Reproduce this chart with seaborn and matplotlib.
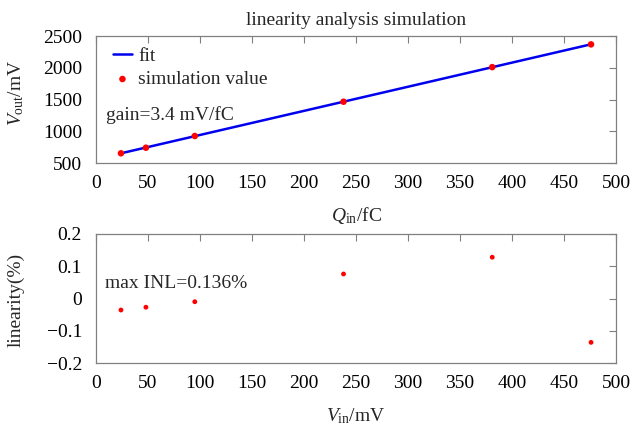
import numpy as np
import pandas as pd
import matplotlib
matplotlib.use("Agg")
import matplotlib.pyplot as plt
import seaborn as sns
from matplotlib.ticker import FuncFormatter

# data
q_in = [24, 48, 95, 238, 381, 476]
v_out = [653, 741, 925, 1465, 2010, 2368]
v_in = [24, 48, 95, 238, 381, 476]
linearity = [-0.0357, -0.027, -0.010, 0.076, 0.128, -0.136]

sns.set_theme(style="white")
plt.rcParams["font.family"] = ["Liberation Serif", "DejaVu Serif"]
plt.rcParams["mathtext.fontset"] = "custom"
plt.rcParams["mathtext.rm"] = "Liberation Serif"
plt.rcParams["mathtext.it"] = "Liberation Serif:italic"
plt.rcParams["axes.unicode_minus"] = True

FS = 14
fig = plt.figure(figsize=(6.34, 4.32), dpi=100)
ax1 = fig.add_axes([96/634, 1-163/432, 520/634, 127/432])
ax2 = fig.add_axes([96/634, 1-363/432, 520/634, 129/432])

df = pd.DataFrame({"q": q_in, "v": v_out})
coef = np.polyfit(q_in, v_out, 1)
fit_x = [q_in[0], q_in[-1]]
fit_df = pd.DataFrame({"q": fit_x, "v": np.polyval(coef, fit_x)})

sns.lineplot(data=fit_df, x="q", y="v", ax=ax1, color="#0000ee", lw=1.8, label="fit")
sns.scatterplot(data=df, x="q", y="v", ax=ax1, color="#ff0000", s=22, edgecolor="none",
                label="simulation value", zorder=3)

df2 = pd.DataFrame({"v": v_in, "l": linearity})
sns.scatterplot(data=df2, x="v", y="l", ax=ax2, color="#ff0000", s=12, edgecolor="none")

for ax in (ax1, ax2):
    ax.set_xlim(0, 500)
    ax.set_xticks(range(0, 501, 50))
    ax.tick_params(direction="in", length=5, width=0.8, colors="#808080",
                   top=True, right=True, labelsize=FS, labelcolor="black")
    ax.tick_params(axis="x", pad=9)
    ax.tick_params(axis="y", pad=10)
    for s in ax.spines.values():
        s.set_color("#808080")
        s.set_linewidth(0.9)

ax1.set_ylim(500, 2500)
ax1.set_yticks(range(500, 2501, 500))
ax2.set_ylim(-0.2, 0.2)
ax2.set_yticks([-0.2, -0.1, 0, 0.1, 0.2])
ax2.yaxis.set_major_formatter(FuncFormatter(
    lambda v, p: "0" if abs(v) < 1e-9 else f"{v:g}".replace("-", "\u2212")))

ax1.set_title("linearity analysis simulation", fontsize=FS, pad=8)
ax1.set_xlabel(r"$Q_{\mathrm{in}}$/fC", fontsize=FS, labelpad=9)
ax1.set_ylabel(r"$V_{\mathrm{out}}$/mV", fontsize=FS)
ax1.yaxis.set_label_coords(-0.134, 0.55)
ax2.set_xlabel(r"$V_{\mathrm{in}}$/mV", fontsize=FS, labelpad=10)
ax2.set_ylabel("linearity(%)", fontsize=FS)
ax2.yaxis.set_label_coords(-0.137, 0.49)

leg = ax1.legend(loc="upper left", frameon=False, fontsize=FS, handlelength=1.0,
                 handletextpad=0.3, borderaxespad=0.3, labelspacing=0.3,
                 bbox_to_anchor=(0.006, 1.02))

ax1.text(10, 1250, "gain=3.4 mV/fC", fontsize=FS, ha="left", va="center")
ax2.text(9, 0.046, "max INL=0.136%", fontsize=FS, ha="left", va="center")

fig.savefig("out.png", dpi=100)
